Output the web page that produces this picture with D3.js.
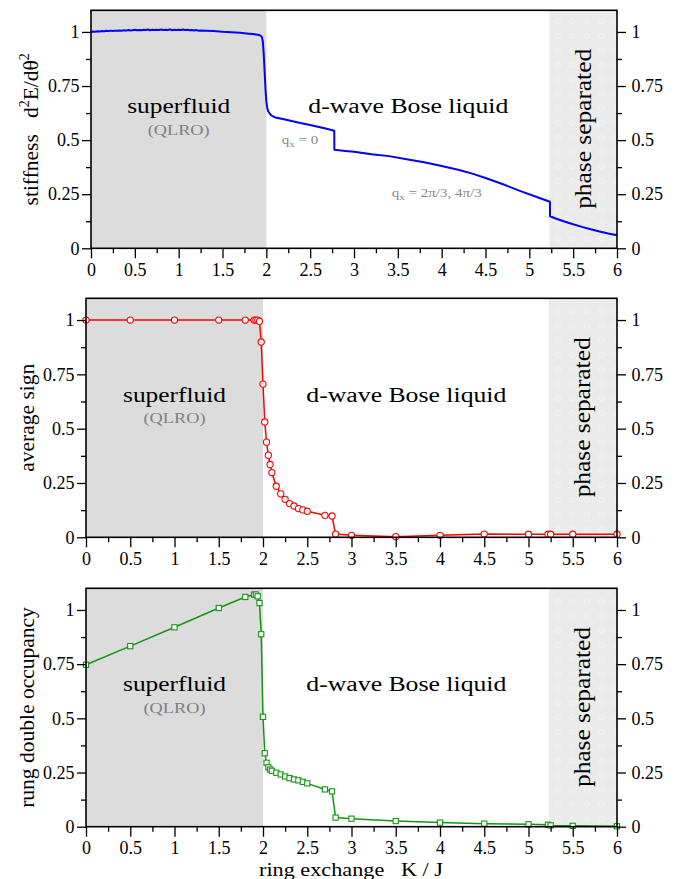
<!DOCTYPE html>
<html><head><meta charset="utf-8">
<script src="https://cdn.jsdelivr.net/npm/d3@7"></script>
<style>body{margin:0;background:#fff}svg{display:block;font-family:"Liberation Serif","Times New Roman",serif}</style>
</head><body>
<svg id="c" width="680" height="879"></svg>
<script>
// ---------------- data ----------------
const xTicks = [0,0.5,1,1.5,2,2.5,3,3.5,4,4.5,5,5.5,6];
const xMinor = [0.25,0.75,1.25,1.75,2.25,2.75,3.25,3.75,4.25,4.75,5.25,5.75];
const yTicks = [0,0.25,0.5,0.75,1];
const yMinor = [0.125,0.375,0.625,0.875];
const superfluidRange = [0,2];
const phaseSepRange = [5.23,6];

const stiffK = [0,0.025,0.05,0.075,0.1,0.125,0.15,0.175,0.2,0.225,0.25,0.275,0.3,0.325,0.35,0.375,0.4,0.425,0.45,0.475,0.5,0.525,0.55,0.575,0.6,0.625,0.65,0.675,0.7,0.725,0.75,0.775,0.8,0.825,0.85,0.875,0.9,0.925,0.95,0.975,1.0,1.025,1.05,1.075,1.1,1.125,1.15,1.175,1.2,1.225,1.25,
  1.3,1.4,1.5,1.6,1.7,1.8,1.85,1.9,1.93,1.95,1.96,1.97,1.98,1.99,2.0,2.01,2.02,2.04,2.06,2.1,2.2,2.3,2.4,2.5,2.6,2.7,2.775,2.776,2.9,3.0,3.2,3.4,3.6,3.8,4.0,4.2,4.35,4.5,4.7,4.9,5.1,5.235,5.236,5.3,5.4,5.5,5.6,5.7,5.8,5.9,6.0];
const stiffV = [1.000,1.002,1.001,1.003,1.002,1.004,1.003,1.005,1.004,1.006,1.004,1.006,1.005,1.007,1.006,1.008,1.006,1.009,1.007,1.008,1.010,1.008,1.009,1.008,1.010,1.009,1.011,1.008,1.010,1.009,1.010,1.009,1.011,1.009,1.010,1.009,1.012,1.008,1.010,1.009,1.010,1.009,1.011,1.009,1.010,1.008,1.009,1.007,1.009,1.006,1.007,
  1.006,1.004,1.001,0.999,0.996,0.992,0.990,0.987,0.984,0.976,0.955,0.90,0.82,0.74,0.68,0.65,0.635,0.622,0.613,0.605,0.596,0.587,0.578,0.570,0.561,0.551,0.543,0.456,0.450,0.446,0.435,0.426,0.412,0.398,0.380,0.362,0.345,0.325,0.296,0.264,0.235,0.215,0.148,0.138,0.124,0.111,0.099,0.088,0.078,0.068,0.060];

const signK = [0,0.5,1,1.5,1.8,1.9,1.92,1.94,1.96,1.98,2.0,2.02,2.04,2.06,2.08,2.1,2.15,2.2,2.25,2.3,2.35,2.4,2.45,2.5,2.7,2.78,2.82,3,3.5,4,4.5,5,5.22,5.25,5.5,6];
const signV = [1,1,1,1,1,1,1,1,0.994,0.899,0.705,0.531,0.438,0.378,0.335,0.298,0.235,0.2,0.175,0.155,0.144,0.132,0.126,0.12,0.101,0.098,0.015,0.009,0.003,0.009,0.015,0.014,0.014,0.014,0.014,0.014];

const rungK = [0,0.5,1,1.5,1.8,1.9,1.92,1.94,1.96,1.98,2.0,2.02,2.04,2.06,2.08,2.1,2.15,2.2,2.25,2.3,2.35,2.4,2.45,2.5,2.7,2.78,2.82,3,3.5,4,4.5,5,5.22,5.25,5.5,6];
const rungV = [0.747,0.833,0.920,1.009,1.060,1.071,1.071,1.063,1.032,0.888,0.507,0.339,0.295,0.274,0.264,0.258,0.249,0.241,0.232,0.224,0.218,0.214,0.207,0.2,0.172,0.163,0.042,0.037,0.026,0.019,0.014,0.011,0.009,0.006,0.004,0.002];

// ---------------- drawing ----------------
const svg = d3.select("#c");
const defs = svg.append("defs");
const pat = defs.append("pattern").attr("id","dots").attr("patternUnits","userSpaceOnUse")
  .attr("width",14.5).attr("height",14.5);
pat.append("rect").attr("width",14.5).attr("height",14.5).attr("fill","#ebebeb");
pat.append("circle").attr("cx",7).attr("cy",7).attr("r",2.4).attr("fill","none").attr("stroke","#f3f3f3").attr("stroke-width",1);

const panels = [
  {x0:91, x1:617, yt:10.3, yb:248.3, k:stiffK, v:stiffV, color:"#0000ff", marker:null, title:"stiff", tx:37.5},
  {x0:86, x1:617, yt:298.3, yb:537.3, k:signK, v:signV, color:"#ff0000", marker:"circle", title:"average sign", tx:33.5},
  {x0:86, x1:617, yt:588.3, yb:826.7, k:rungK, v:rungV, color:"#139513", marker:"square", title:"rung double occupancy", tx:33.5}
];

panels.forEach(p => {
  const x = d3.scaleLinear().domain([0,6]).range([p.x0,p.x1]);
  const y = d3.scaleLinear().domain([0,1.1]).range([p.yb,p.yt]);
  const g = svg.append("g");

  g.append("rect").attr("x",x(superfluidRange[0])).attr("y",p.yt)
    .attr("width",x(superfluidRange[1])-x(superfluidRange[0])).attr("height",p.yb-p.yt).attr("fill","#dcdcdc");
  g.append("rect").attr("x",x(phaseSepRange[0])).attr("y",p.yt)
    .attr("width",x(phaseSepRange[1])-x(phaseSepRange[0])).attr("height",p.yb-p.yt).attr("fill","url(#dots)");

  // region labels
  const hl = (kx, vy, txt, size, len, fill) => g.append("text")
    .attr("x",x(kx)).attr("y",y(vy)).attr("text-anchor","middle")
    .attr("font-size",size).attr("fill",fill||"#000")
    .attr("textLength",len).attr("lengthAdjust","spacingAndGlyphs").text(txt);
  hl(1.0, 0.624, "superfluid", 20.5, 103);
  hl(1.0, 0.525, "(QLRO)", 15, 62, "#808080");
  hl(3.62, 0.624, "d-wave Bose liquid", 20.5, 200);
  g.append("text").attr("transform",`translate(${x(5.62)+7},${y(0.552)}) rotate(-90)`)
    .attr("text-anchor","middle").attr("font-size",23.5)
    .attr("textLength",160).attr("lengthAdjust","spacingAndGlyphs").text("phase separated");

  // data line
  const data = p.k.map((kk,i)=>[kk,p.v[i]]);
  g.append("path").datum(data).attr("fill","none").attr("stroke",p.color)
    .attr("stroke-width", p.marker ? 1.5 : 2).attr("stroke-linejoin","round")
    .attr("d", d3.line().x(d=>x(d[0])).y(d=>y(d[1])));
  if (p.marker === "circle") {
    g.selectAll("circle.m").data(data).join("circle").attr("class","m")
      .attr("cx",d=>x(d[0])).attr("cy",d=>y(d[1])).attr("r",3.1)
      .attr("fill","#fff").attr("stroke",p.color).attr("stroke-width",1.1);
  } else if (p.marker === "square") {
    g.selectAll("rect.m").data(data).join("rect").attr("class","m")
      .attr("x",d=>x(d[0])-2.6).attr("y",d=>y(d[1])-2.6).attr("width",5.2).attr("height",5.2)
      .attr("fill","#fff").attr("stroke",p.color).attr("stroke-width",1.1);
  }

  // frame
  g.append("rect").attr("x",p.x0).attr("y",p.yt).attr("width",p.x1-p.x0).attr("height",p.yb-p.yt)
    .attr("fill","none").attr("stroke","#000").attr("stroke-width",1.6);

  // axes
  const fmt = d3.format("~g");
  const styleAxis = (sel, fs) => {
    sel.select(".domain").remove();
    sel.selectAll(".tick line").attr("stroke","#000").attr("stroke-width",1.3);
    sel.selectAll("text").attr("font-size",fs).attr("fill","#000")
      .attr("font-family","Liberation Serif, Times New Roman, serif");
  };
  g.append("g").attr("transform",`translate(0,${p.yb})`)
    .call(d3.axisBottom(x).tickValues(xTicks).tickSize(10).tickPadding(5).tickFormat(fmt))
    .call(s=>styleAxis(s,18));
  g.append("g").attr("transform",`translate(0,${p.yb})`)
    .call(d3.axisBottom(x).tickValues(xMinor).tickSize(5).tickFormat(""))
    .call(s=>styleAxis(s,18));
  g.append("g").attr("transform",`translate(${p.x0},0)`)
    .call(d3.axisLeft(y).tickValues(yTicks).tickSize(9).tickPadding(2.5).tickFormat(fmt))
    .call(s=>styleAxis(s,18));
  g.append("g").attr("transform",`translate(${p.x0},0)`)
    .call(d3.axisLeft(y).tickValues(yMinor).tickSize(5).tickFormat(""))
    .call(s=>styleAxis(s,18));
  g.append("g").attr("transform",`translate(${p.x1},0)`)
    .call(d3.axisRight(y).tickValues(yTicks).tickSize(9).tickPadding(5.5).tickFormat(fmt))
    .call(s=>styleAxis(s,18));
  g.append("g").attr("transform",`translate(${p.x1},0)`)
    .call(d3.axisRight(y).tickValues(yMinor).tickSize(5).tickFormat(""))
    .call(s=>styleAxis(s,18));

  // y title
  const cy = (p.yt+p.yb)/2;
  const t = svg.append("text").attr("transform",`translate(${p.tx},${cy}) rotate(-90)`)
    .attr("text-anchor","middle").attr("font-size",21.5);
  if (p.title === "stiff") {
    t.append("tspan").text("stiffness\u00a0\u00a0\u00a0d");
    t.append("tspan").attr("font-size",14).attr("dy",-9).text("2");
    t.append("tspan").attr("dy",9).text("E/d\u03b8");
    t.append("tspan").attr("font-size",14).attr("dy",-9).text("2");
  } else {
    t.text(p.title);
  }

  // q_x labels in top panel
  if (p.marker === null) {
    const q = (kx, vy, rest) => {
      const tt = g.append("text").attr("transform",`translate(${x(kx)},${y(vy)}) scale(1.25,1)`)
        .attr("font-size",12).attr("fill","#888");
      tt.append("tspan").text("q");
      tt.append("tspan").attr("font-size",9).attr("dy",3).text("x");
      tt.append("tspan").attr("dy",-3).text(rest);
    };
    q(2.175, 0.484, "\u00a0=\u00a00");
    q(3.43, 0.235, "\u00a0=\u00a02\u03c0/3,\u00a04\u03c0/3");
  }
});

// x title
svg.append("text").attr("x",351).attr("y",876).attr("text-anchor","middle")
  .attr("font-size",18).attr("textLength",184).attr("lengthAdjust","spacingAndGlyphs")
  .text("ring exchange\u00a0\u00a0\u00a0K / J");
</script>
</body></html>
